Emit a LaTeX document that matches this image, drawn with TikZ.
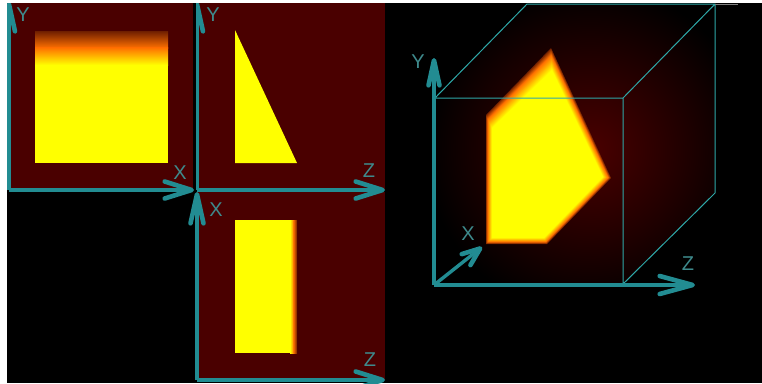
\documentclass[tikz,border=0pt]{standalone}
\usepackage{fontspec}
\setmainfont{Liberation Sans}
\usetikzlibrary{arrows.meta,calc}
\definecolor{axisteal}{RGB}{34,140,146}
\definecolor{labelteal}{RGB}{62,138,140}
\definecolor{edgeteal}{RGB}{46,168,168}
\definecolor{panelred}{RGB}{74,0,0}
\definecolor{rimred}{RGB}{110,30,0}
\definecolor{hotorange}{RGB}{255,112,0}
\definecolor{hotyellow}{RGB}{255,255,0}
\tikzset{
  axis/.style={draw=axisteal,line width=3.4pt},
  barb/.style 2 args={-{Straight Barb[round,length=#1,width=#2,line width=4.6pt]}},
  axislabel/.style={text=labelteal,inner sep=0pt,font=\fontsize{20}{20}\selectfont},
  edge/.style={draw=edgeteal,line width=1pt}
}
\begin{document}
\begin{tikzpicture}[x=1pt,y=-1pt]
  \useasboundingbox (0,0) rectangle (762,383);
  \fill[white] (0,0) rectangle (762,383);
  \clip (7,3) rectangle (762,383);
  \fill[black] (7,3) rectangle (762,383);
  % flat views
  \fill[panelred] (7,3) rectangle (193,190);
  \fill[panelred] (197,3) rectangle (385,190);
  \fill[panelred] (197,192) rectangle (385,380);
  \fill[hotyellow] (35,64) rectangle (168,163);
  \shade[top color=rimred,bottom color=hotorange] (35,31) rectangle (168,48);
  \shade[top color=hotorange,bottom color=hotyellow] (35,47.5) rectangle (168,65);
  \fill[hotyellow] (235,30) -- (297,163) -- (235,163) -- cycle;
  \fill[hotyellow] (235,220) rectangle (291,353);
  \shade[left color=hotyellow,right color=hotorange] (290,220) rectangle (294,353);
  \shade[left color=hotorange,right color=rimred] (293.5,220) rectangle (297,353);
  % solid view
  \coordinate (a1) at (435,98);
  \coordinate (a2) at (623,98);
  \coordinate (a3) at (623,284);
  \coordinate (a4) at (435,284);
  \coordinate (b1) at (527,4);
  \coordinate (b2) at (715,4);
  \coordinate (b3) at (715,193);
  \begin{scope}
    \clip (a1) -- (b1) -- (b2) -- (b3) -- (a3) -- (a4) -- cycle;
    \shade[inner color=panelred,outer color=black] (590,150) circle (165);
  \end{scope}
  \coordinate (o1) at (551,48);
  \coordinate (o2) at (611,178);
  \coordinate (o3) at (547,244);
  \coordinate (o4) at (486,244);
  \coordinate (o5) at (486,115);
  \coordinate (i1) at (552,70);
  \coordinate (i2) at (603,177);
  \coordinate (i3) at (544,238);
  \coordinate (i4) at (492,238);
  \coordinate (i5) at (492,128);
  \foreach \k in {0,...,8}{
    \pgfmathsetmacro\t{\k*.04}
    \pgfmathsetmacro\p{\k*12.5}
    \fill[hotorange!\p!rimred] ($(o1)!\t!(i1)$) -- ($(o2)!\t!(i2)$) -- ($(o3)!\t!(i3)$) -- ($(o4)!\t!(i4)$) -- ($(o5)!\t!(i5)$) -- cycle;
  }
  \foreach \k in {1,...,17}{
    \pgfmathsetmacro\t{.32+\k*.04}
    \pgfmathsetmacro\p{\k*100/17}
    \fill[hotyellow!\p!hotorange] ($(o1)!\t!(i1)$) -- ($(o2)!\t!(i2)$) -- ($(o3)!\t!(i3)$) -- ($(o4)!\t!(i4)$) -- ($(o5)!\t!(i5)$) -- cycle;
  }
  \draw[edge] (a1) -- (a2) -- (a3) (a1) -- (b1) -- (b2) -- (b3) -- (a3) (a2) -- (b2);
  \draw[gray,line width=1pt] (b2) -- (738,4);
  % axes
  \coordinate (o) at (9,190);
  \coordinate (oy) at (9,2);
  \coordinate (ox) at (194,190);
  \draw[axis,barb={27pt}{12pt}] (o) -- (oy);
  \draw[axis,barb={27pt}{17pt}] (o) -- (ox);
  \begin{scope}
    \clip (196,0) rectangle (762,383);
    \coordinate (p) at (197,190);
    \coordinate (py) at (197,2);
    \coordinate (pz) at (385,190);
    \draw[axis,barb={27pt}{12pt}] (p) -- (py);
    \draw[axis,barb={27pt}{17pt}] (p) -- (pz);
  \end{scope}
  \coordinate (q) at (197,380);
  \coordinate (qx) at (197,192);
  \coordinate (qz) at (385,380);
  \draw[axis,barb={29pt}{13pt}] (q) -- (qx);
  \draw[axis,barb={27pt}{17pt}] (q) -- (qz);
  \coordinate (r) at (434,285);
  \coordinate (ry) at (434,58);
  \coordinate (rz) at (695,285);
  \coordinate (rx) at (482,247);
  \draw[axis,barb={25pt}{11pt}] (r) -- (ry);
  \draw[axis,barb={33pt}{18pt}] (r) -- (rz);
  \draw[axis,barb={18pt}{14pt}] (r) -- (rx);
  % labels
  \node[axislabel] (ya) at (23,15) {Y};
  \node[axislabel] (xa) at (180,173) {X};
  \node[axislabel] (yb) at (213,15) {Y};
  \node[axislabel] (zb) at (369,171) {Z};
  \node[axislabel] (xc) at (216,210) {X};
  \node[axislabel] (zc) at (370,360) {Z};
  \node[axislabel] (yd) at (418,62) {Y};
  \node[axislabel] (xd) at (468,234) {X};
  \node[axislabel] (zd) at (688,264) {Z};
\end{tikzpicture}
\end{document}
